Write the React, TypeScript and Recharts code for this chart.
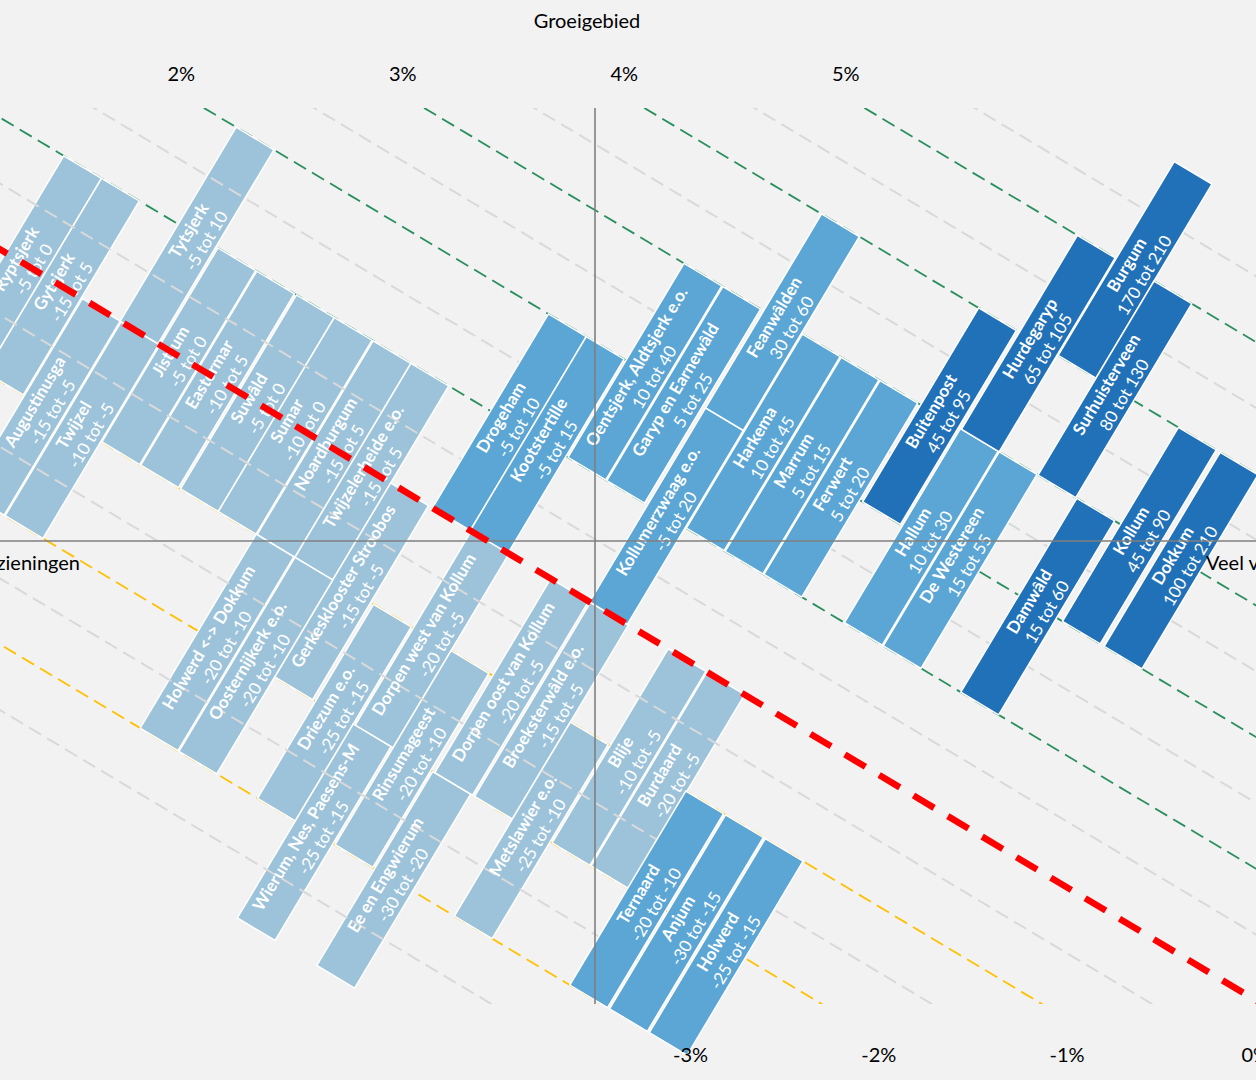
import React from "react";
import { ScatterChart, Scatter, XAxis, YAxis, ReferenceLine } from "recharts";

// kernen, per kleurgroep (licht, midden, donker)
const placeNames = [
  "Ryptsjerk", "Gytsjerk", "Augustinusga", "Twijzel", "Tytsjerk", "Jistrum",
  "Eastermar", "Suwâld", "Sumar", "Noardburgum", "Twijzelerheide e.o.",
  "Gerkesklooster Stroobos", "Holwerd <-> Dokkum", "Oosternijkerk e.o.",
  "Driezum e.o.", "Wierum, Nes, Paesens-M", "Dorpen west van Kollum",
  "Rinsumageest", "Ee en Engwierum", "Dorpen oost van Kollum",
  "Broeksterwâld e.o.", "Metslawier e.o.", "Blije", "Burdaard",
  "Drogeham", "Kootstertille", "Oentsjerk, Aldtsjerk e.o.", "Garyp en Earnewâld",
  "Kollumerzwaag e.o.", "Feanwâlden", "Harkema", "Marrum", "Ferwert", "Hallum",
  "De Westereen", "Ternaard", "Anjum", "Holwerd",
  "Buitenpost", "Hurdegaryp", "Burgum", "Surhuisterveen", "Damwâld", "Kollum", "Dokkum",
];

const houseRanges = [
  "-5 tot 0", "-15 tot 5", "-15 tot -5", "-10 tot -5", "-5 tot 10", "-5 tot 0",
  "-10 tot 5", "-5 tot 0", "-10 tot 0", "-15 tot 5", "-15 tot 5",
  "-15 tot -5", "-20 tot -10", "-20 tot -10",
  "-25 tot -15", "-25 tot -15", "-20 tot -5",
  "-20 tot -10", "-30 tot -20", "-20 tot -5",
  "-15 tot -5", "-25 tot -10", "-10 tot -5", "-20 tot -5",
  "-5 tot 10", "-5 tot 15", "10 tot 40", "5 tot 25",
  "-5 tot 20", "30 tot 60", "10 tot 45", "5 tot 15", "5 tot 20", "10 tot 30",
  "15 tot 55", "-20 tot -10", "-30 tot -15", "-25 tot -15",
  "45 tot 95", "65 tot 105", "170 tot 210", "80 tot 130", "15 tot 60", "45 tot 90", "100 tot 210",
];

// positie dwars op de staven (langs de schuine lijnen)
const columnPos = [
  -5.59, -5.2, -4.8, -4.4, -4.41, -4.0,
  -3.6, -3.19, -2.8, -2.4, -2.01,
  -1.62, -2.41, -2.01,
  -1.2, -0.81, -0.79,
  -0.4, 0.01, 0.03,
  0.44, 0.83, 1.24, 1.64,
  -1.19, -0.8, -0.39, 0.01,
  0.43, 0.43, 0.83, 1.23, 1.63, 2.46,
  2.86, 2.02, 2.43, 2.84,
  2.05, 2.47, 2.87, 3.26, 3.66, 4.11, 4.54,
];

// groei in %, onder- en bovenkant van elke staaf
const growthLow = [
  -1, -1, -2, -2, 0, -1,
  -1, -1, -1, -1, -1,
  -2, -3, -3,
  -3, -4, -2,
  -3, -4, -2,
  -2, -3, -2, -2,
  0, 0, 1, 1,
  0, 2, 1, 1, 1, 1,
  1, -3, -3, -3,
  2, 3, 4, 3, 1, 2, 2,
];
const growthHigh = [
  1, 1, 0, 0, 2, 1,
  1, 1, 1, 1, 1,
  0, -1, -1,
  -1, -2, 0,
  -1, -2, 0,
  0, -1, 0, 0,
  2, 2, 3, 3,
  2, 4, 3, 3, 3, 3,
  3, -1, -1, -1,
  4, 5, 6, 5, 3, 4, 4,
];

// 0 = licht, 1 = midden, 2 = donker
const tier = [
  0, 0, 0, 0, 0, 0, 0, 0, 0, 0, 0, 0, 0, 0, 0, 0, 0, 0, 0, 0, 0, 0, 0, 0,
  1, 1, 1, 1, 1, 1, 1, 1, 1, 1, 1, 1, 1, 1,
  2, 2, 2, 2, 2, 2, 2,
];

const isoValues = [-3.5, -3, -2.5, -2, -1.5, -1, -0.5, 0, 0.5, 1, 1.5, 2, 2.5, 3, 3.5, 4, 4.5, 5, 5.5];
const topTicks = [2, 3, 4, 5];
const bottomTicks = [-3, -2, -1, 0];

const W = 1256;
const H = 1080;
const PLOT_TOP = 108;
const PLOT_BOTTOM = 1004;
const ORIGIN_X = 595;
const ORIGIN_Y = 541;
const UNIT = 113; // px per procentpunt
const TILT = Math.atan(0.598);
const V_AT_ORIGIN = 0.487;
const BAR_W = 44;
const FONT = "Lato, 'Open Sans', sans-serif";

const TIER_FILL = ["#9DC3DA", "#5BA6D5", "#2171B9"];

const xDomain = [-ORIGIN_X / UNIT, (W - ORIGIN_X) / UNIT];
const yDomain = [(ORIGIN_Y - PLOT_BOTTOM) / UNIT, (ORIGIN_Y - PLOT_TOP) / UNIT];
const topDomain = [2 - 181.3 / 221.5, 2 + (W - 181.3) / 221.5];
const bottomDomain = [-3 - 690.5 / 188.25, -3 + (W - 690.5) / 188.25];

const sinT = Math.sin(TILT);
const cosT = Math.cos(TILT);

// (dwars, groei) -> grafiekcoordinaten
function toXY(u: number, v: number) {
  const w = v - V_AT_ORIGIN;
  return { x: cosT * u + sinT * w, y: -sinT * u + cosT * w };
}

const bars = placeNames.map((name, i) => ({
  name,
  range: houseRanges[i],
  u: columnPos[i],
  lo: growthLow[i],
  hi: growthHigh[i],
  tier: tier[i],
}));

// tick labels sit on the top and bottom edge of the plot
const topTickPoints = topTicks.map((pct) => ({ pct, y: yDomain[1] }));
const bottomTickPoints = bottomTicks.map((pct) => ({ pct, y: yDomain[0] }));

function barSegment(b: any) {
  return [toXY(b.u, b.lo), toXY(b.u, b.hi)];
}

function isoSegment(v: number) {
  return [toXY(-12, v), toXY(12, v)];
}

function isoStyle(v: number) {
  if (v === 0) return { stroke: "#FF0000", strokeWidth: 6.5, strokeDasharray: "24 16" };
  if (!Number.isInteger(v)) return { stroke: "#D9D9D9", strokeWidth: 2, strokeDasharray: "14 7" };
  if (v > 0) return { stroke: "#2A8F5E", strokeWidth: 1.8, strokeDasharray: "14 7" };
  return { stroke: "#FFC000", strokeWidth: 1.8, strokeDasharray: "14 7" };
}

function BarRect(props: any) {
  const { x1, y1, x2, y2, fill } = props;
  const dx = x2 - x1;
  const dy = y2 - y1;
  const len = Math.hypot(dx, dy) || 1;
  const nx = (-dy / len) * (BAR_W / 2);
  const ny = (dx / len) * (BAR_W / 2);
  const pts = [
    [x1 + nx, y1 + ny],
    [x2 + nx, y2 + ny],
    [x2 - nx, y2 - ny],
    [x1 - nx, y1 - ny],
  ]
    .map((p) => p.join(","))
    .join(" ");
  return <polygon points={pts} fill={fill} stroke="#FFFFFF" strokeWidth={1.5} />;
}

function BarLabel(props: any) {
  const { x1, y1, x2, y2, title, sub } = props;
  const mx = (x1 + x2) / 2;
  const my = (y1 + y2) / 2;
  const angle = (Math.atan2(y2 - y1, x2 - x1) * 180) / Math.PI;
  return (
    <g transform={`translate(${mx},${my}) rotate(${angle})`} fontFamily={FONT} fontSize={17} fill="#FFFFFF">
      <text y={-10.3} textAnchor="middle" dominantBaseline="central" fontWeight="bold">
        {title}
      </text>
      <text y={10.3} textAnchor="middle" dominantBaseline="central">
        {sub}
      </text>
    </g>
  );
}

function PctLabel(props: any) {
  const { cx, cy, payload, dy } = props;
  return (
    <text x={cx} y={cy + dy} textAnchor="middle" fontFamily={FONT} fontSize={20} fill="#000000">
      {`${payload.pct}%`}
    </text>
  );
}

function VerticalTitle(props: any) {
  const vb = props.viewBox;
  return (
    <text x={vb.x - 8} y={vb.y - 80} textAnchor="middle" fontFamily={FONT} fontSize={20} fill="#000000">
      Groeigebied
    </text>
  );
}

function HorizontalTitles(props: any) {
  const vb = props.viewBox;
  return (
    <g fontFamily={FONT} fontSize={20} fill="#000000">
      <text x={vb.x + 80} y={vb.y + 29} textAnchor="end">
        Weinig voorzieningen
      </text>
      <text x={vb.x + vb.width - 50} y={vb.y + 29} textAnchor="start">
        Veel voorzieningen
      </text>
    </g>
  );
}

export default function App() {
  const under = isoValues.filter((v) => Number.isInteger(v) && v !== 0);
  const grey = isoValues.filter((v) => !Number.isInteger(v));
  const red = isoValues.filter((v) => v === 0);

  const renderIso = (v: number) => (
    <ReferenceLine
      key={`iso-${v}`}
      xAxisId="main"
      yAxisId="main"
      segment={isoSegment(v)}
      ifOverflow="hidden"
      {...isoStyle(v)}
    />
  );

  const renderBar = (b: any) => (
    <ReferenceLine
      key={`bar-${b.name}`}
      xAxisId="main"
      yAxisId="main"
      segment={barSegment(b)}
      ifOverflow="visible"
      shape={(p: any) => <BarRect {...p} fill={TIER_FILL[b.tier]} />}
    />
  );

  return (
    <div
      style={{
        position: "fixed",
        left: 0,
        top: 0,
        width: W,
        height: H,
        overflow: "hidden",
        background: "#F2F2F2",
      }}
    >
      <ScatterChart width={W} height={H} margin={{ top: 68, right: 0, bottom: 36, left: 0 }}>
        <XAxis xAxisId="main" type="number" dataKey="x" domain={xDomain} allowDataOverflow hide />
        <YAxis yAxisId="main" type="number" dataKey="y" domain={yDomain} hide />
        <XAxis
          xAxisId="top"
          orientation="top"
          type="number"
          dataKey="pct"
          domain={topDomain}
          height={40}
          axisLine={false}
          tickLine={false}
          tick={false}
        />
        <XAxis
          xAxisId="bottom"
          orientation="bottom"
          type="number"
          dataKey="pct"
          domain={bottomDomain}
          height={40}
          axisLine={false}
          tickLine={false}
          tick={false}
        />

        {under.map(renderIso)}
        {bars.filter((b) => b.tier === 0).map(renderBar)}
        {grey.map(renderIso)}
        {bars.filter((b) => b.tier === 1).map(renderBar)}
        {bars.filter((b) => b.tier === 2).map(renderBar)}

        {bars.map((b) => (
          <ReferenceLine
            key={`lbl-${b.name}`}
            xAxisId="main"
            yAxisId="main"
            segment={barSegment(b)}
            ifOverflow="visible"
            shape={(p: any) => <BarLabel {...p} title={b.name} sub={b.range} />}
          />
        ))}

        <ReferenceLine
          xAxisId="main"
          yAxisId="main"
          x={0}
          stroke="#7F7F7F"
          strokeWidth={1.6}
          label={(p: any) => <VerticalTitle {...p} />}
        />
        <ReferenceLine
          xAxisId="main"
          yAxisId="main"
          y={0}
          stroke="#7F7F7F"
          strokeWidth={1.6}
          label={(p: any) => <HorizontalTitles {...p} />}
        />

        {red.map(renderIso)}

        <Scatter
          xAxisId="top"
          yAxisId="main"
          data={topTickPoints}
          isAnimationActive={false}
          shape={(p: any) => <PctLabel {...p} dy={-27.5} />}
        />
        <Scatter
          xAxisId="bottom"
          yAxisId="main"
          data={bottomTickPoints}
          isAnimationActive={false}
          shape={(p: any) => <PctLabel {...p} dy={58} />}
        />
      </ScatterChart>
    </div>
  );
}
